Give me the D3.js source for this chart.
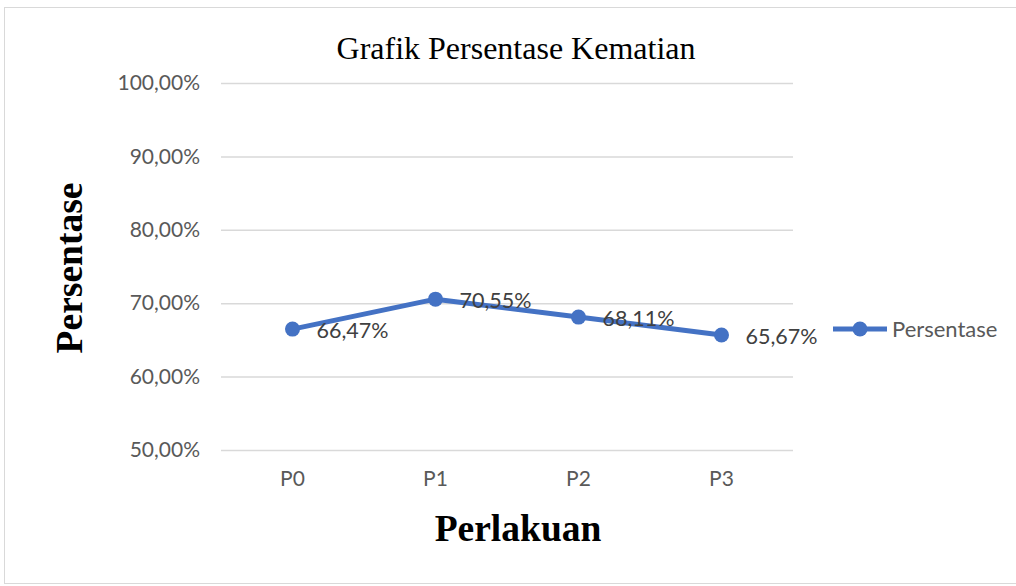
<!DOCTYPE html>
<html>
<head>
<meta charset="utf-8">
<title>Grafik Persentase Kematian</title>
<script src="https://d3js.org/d3.v7.min.js"></script>
<style>
  body { margin: 0; background: #fff; }
  svg text { font-family: Lato, "Open Sans", sans-serif; }
  .serif { font-family: "Liberation Serif", "Times New Roman", serif !important; }
</style>
</head>
<body>
<svg width="1016" height="586"></svg>
<script>
// data
var categories = ["P0", "P1", "P2", "P3"];
var values = [66.47, 70.55, 68.11, 65.67];
var yTicks = [50, 60, 70, 80, 90, 100];
var seriesName = "Persentase";

var svg = d3.select("svg");
var color = "#4472C4";

// outer chart border
svg.append("rect")
  .attr("x", 4.5).attr("y", 7.5)
  .attr("width", 1030).attr("height", 576)
  .attr("fill", "none").attr("stroke", "#d9d9d9");

var plot = { left: 221, right: 793, top: 83, bottom: 450 };

var x = d3.scaleBand().domain(categories).range([plot.left, plot.right]);
var y = d3.scaleLinear().domain([50, 100]).range([plot.bottom, plot.top]);

function fmt(v) { return v.toFixed(2).replace(".", ",") + "%"; }

// gridlines + y labels
var yAxis = d3.axisLeft(y).tickValues(yTicks).tickFormat(fmt)
  .tickSize(-(plot.right - plot.left)).tickPadding(21);
var gy = svg.append("g").attr("transform", "translate(" + plot.left + ",0)").call(yAxis);
gy.select(".domain").remove();
gy.selectAll("line").attr("stroke", "#d9d9d9").attr("stroke-width", 1.5);
gy.selectAll("text").attr("fill", "#595959").style("font-size", "21px");

// x labels
var xAxis = d3.axisBottom(x).tickSize(0).tickPadding(21);
var gx = svg.append("g").attr("transform", "translate(0," + plot.bottom + ")").call(xAxis);
gx.select(".domain").remove();
gx.selectAll("text").attr("fill", "#595959").style("font-size", "21px");

// line
var line = d3.line()
  .x(function(d, i) { return x(categories[i]) + x.bandwidth() / 2; })
  .y(function(d) { return y(d); });

svg.append("path").datum(values)
  .attr("d", line)
  .attr("fill", "none").attr("stroke", color).attr("stroke-width", 5)
  .attr("stroke-linejoin", "round");

svg.selectAll(".pt").data(values).enter().append("circle")
  .attr("cx", function(d, i) { return x(categories[i]) + x.bandwidth() / 2; })
  .attr("cy", function(d) { return y(d); })
  .attr("r", 7.5).attr("fill", color);

// data labels
svg.selectAll(".lbl").data(values).enter().append("text")
  .attr("x", function(d, i) { return x(categories[i]) + x.bandwidth() / 2 + 24; })
  .attr("y", function(d) { return y(d) + 9; })
  .attr("fill", "#404040").style("font-size", "21.5px")
  .text(fmt);

// title
svg.append("text").attr("class", "serif")
  .attr("x", 516).attr("y", 59).attr("text-anchor", "middle")
  .style("font-size", "32px").attr("fill", "#000")
  .text("Grafik Persentase Kematian");

// axis titles
svg.append("text").attr("class", "serif")
  .attr("x", 518).attr("y", 541).attr("text-anchor", "middle")
  .style("font-size", "37.5px").style("font-weight", "bold")
  .text("Perlakuan");

svg.append("text").attr("class", "serif")
  .attr("transform", "translate(82,268) rotate(-90)")
  .attr("text-anchor", "middle")
  .style("font-size", "37.5px").style("font-weight", "bold")
  .text("Persentase");

// legend
var lg = svg.append("g").attr("transform", "translate(833,329)");
lg.append("line").attr("x1", 0).attr("x2", 54).attr("y1", 0).attr("y2", 0)
  .attr("stroke", color).attr("stroke-width", 5);
lg.append("circle").attr("cx", 27).attr("cy", 0).attr("r", 7.5).attr("fill", color);
lg.append("text").attr("x", 59).attr("y", 8)
  .attr("fill", "#595959").style("font-size", "22px").text(seriesName);
</script>
</body>
</html>
